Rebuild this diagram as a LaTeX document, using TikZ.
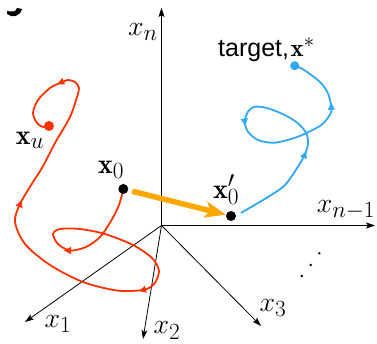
\documentclass[tikz,border=0pt]{standalone}
\usepackage{fontspec}
\newfontfamily\labelsans{Liberation Sans}
\usetikzlibrary{arrows.meta}
\definecolor{trajred}{RGB}{255,51,0}
\definecolor{trajblue}{RGB}{48,168,245}
\definecolor{pushorange}{RGB}{250,168,0}
\newcommand\trihead[4]{\fill[#4, shift={(#1,#2)}, rotate=#3] (4,0) -- (-3,3.6) -- (-3,-3.6) -- cycle;}
\begin{document}
\begin{tikzpicture}[x=1pt,y=-1pt,
  axis/.style={line width=0.8pt, -{Stealth[length=9pt,width=6pt,inset=2pt]}},
  lbl/.style={inner sep=0pt, font=\fontsize{24.88}{30}\selectfont, scale=1.12, transform shape},
  traj/.style={line width=1.8pt, line join=round, line cap=round},
  pt/.style={circle, fill, inner sep=0pt, minimum size=#1},
  pt/.default=10pt,
  push/.style={pushorange, line width=5.5pt, -{Stealth[length=21pt,width=16pt,inset=5pt]}},
  ell/.style={circle, fill, inner sep=0pt, minimum size=2.6pt}
]
\useasboundingbox (0,0) rectangle (377,344);
% partial panel mark
\fill (7,14) .. controls (12,18) and (20,17) .. (22,9) -- (17,8) .. controls (16,12) and (12,12) .. (7,11) -- cycle;
% axes
\coordinate (O) at (161.5,225.5);
\coordinate (tn) at (161.5,8);
\coordinate (tn1) at (375,225.5);
\coordinate (t1) at (25,322);
\coordinate (t2) at (143,339);
\coordinate (t3) at (261,326);
\draw[axis] (O) -- (tn);
\draw[axis] (O) -- (tn1);
\draw[axis] (O) -- (t1);
\draw[axis] (O) -- (t2);
\draw[axis] (O) -- (t3);
\node[lbl] (ln) at (143,32) {$x_n$};
\node[lbl] (ln1) at (346,210) {$x_{n-1}$};
\node[lbl] (l1) at (58,324) {$x_1$};
\node[lbl] (l2) at (167,330.5) {$x_2$};
\node[lbl] (l3) at (273,308) {$x_3$};
\node[ell] (d1) at (319.3,253.3) {};
\node[ell] (d2) at (310.7,265) {};
\node[ell] (d3) at (301.7,276) {};
% red trajectory
\draw[traj, trajred] plot[smooth] coordinates {
 (123.3,189) (119,205) (111,221) (100,237) (86,247) (70,250.5) (58,244) (53,234)
 (60,229) (80,229) (105,234) (133,245) (152,258) (159,271) (154,284) (143,290)
 (117,290.5) (83,282) (50,265) (25,244) (15,222) (20,204) (33,182) (42,168)
 (55,143) (70,117) (77,97) (79,88) (75,82) (68,80) (60,83) (50,88) (38,100)
 (33,113) (37,123) (43,127) (49,126)};
\trihead{68}{250.5}{180}{trajred}
\trihead{143}{290}{195}{trajred}
\trihead{20}{204}{70}{trajred}
\trihead{61}{82.5}{205}{trajred}
% blue trajectory
\draw[traj, trajblue] plot[smooth] coordinates {
 (241.3,212.7) (268,197) (284,186) (294.7,171.7) (304.7,155) (308,143.3) (306.3,133.3)
 (298,123.3) (284.7,115) (268,108.3) (254.7,106.7) (248,111.7) (244.7,121.7)
 (248,131.7) (258,140) (274.7,142.7) (298,136.7) (321.3,125) (330.7,113.3)
 (331.3,106.7) (328,93.3) (321.3,83.3) (311.3,75) (301.3,68.3) (294.7,65.7)};
\trihead{304.7}{155}{66}{trajblue}
\trihead{244.7}{121.7}{-82}{trajblue}
\trihead{331.3}{106.7}{92}{trajblue}
% points
\node[pt, trajred] (xu) at (49,126) {};
\node[pt=9pt, trajblue] (tg) at (294.7,65.7) {};
\node[pt] (x0) at (123.3,189) {};
\node[pt] (x0p) at (231,216) {};
\draw[push, shorten <=4pt] (x0) -- (x0p);
% labels
\node[lbl] (lxu) at (30,140) {$\mathbf{x}_u$};
\node[lbl] (lx0) at (111,170) {$\mathbf{x}_0$};
\node[lbl] (lx0p) at (226,190) {$\mathbf{x}_0'$};
\node[inner sep=0pt, anchor=base west] (ltg) at (218,56.5) {{\labelsans\fontsize{25}{28}\selectfont target,}\,\fontsize{24.88}{30}\selectfont$\mathbf{x}^{*}$};
\end{tikzpicture}
\end{document}
